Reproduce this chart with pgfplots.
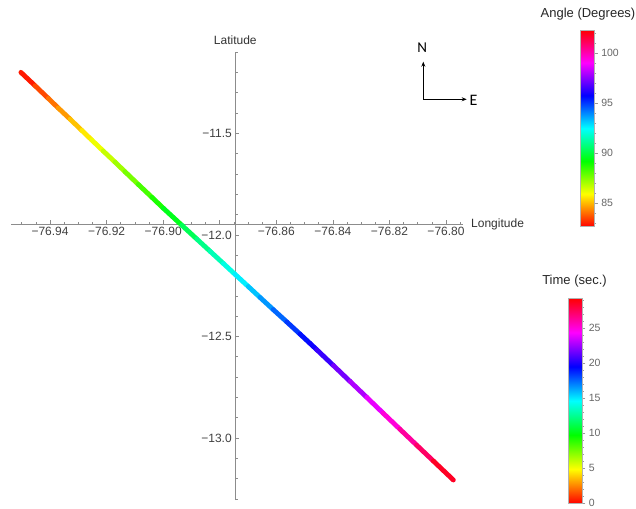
\documentclass[border=0pt]{standalone}
\usepackage{fontspec}
\setmainfont{Liberation Sans}
\newfontfamily\calib{Carlito}
\usepackage{pgfplots}
\usepackage{pgfplotstable}
\pgfplotsset{compat=1.18}
\usetikzlibrary{arrows.meta}
\pgfplotsset{/pgf/number format/assume math mode=true}

\pgfplotsset{colormap={hue}{rgb=(1,0,0) rgb=(1,1,0) rgb=(0,1,0) rgb=(0,1,1) rgb=(0,0,1) rgb=(1,0,1) rgb=(1,0,0)}}

\pgfplotstableread{
lon lat t
-76.9503 -11.1997 0
-76.9453 -11.2655 0.95
-76.9406 -11.3281 1.85
-76.9371 -11.3752 2.53
-76.9329 -11.4302 3.32
-76.9288 -11.4853 4.12
-76.9253 -11.5323 4.79
-76.9212 -11.5869 5.58
-76.9170 -11.6420 6.37
-76.9135 -11.6890 7.05
-76.9088 -11.7516 7.95
-76.9040 -11.8147 8.86
-76.8999 -11.8693 9.65
-76.8934 -11.9526 10.90
-76.8881 -12.0206 11.91
-76.8834 -12.0809 12.81
-76.8787 -12.1411 13.72
-76.8746 -12.1941 14.51
-76.8699 -12.2544 15.41
-76.8658 -12.3074 16.20
-76.8611 -12.3677 17.11
-76.8563 -12.4284 18.02
-76.8516 -12.4887 18.92
-76.8481 -12.5340 19.59
-76.8457 -12.5654 20.05
-76.8398 -12.6434 21.17
-76.8339 -12.7219 22.31
-76.8280 -12.8003 23.44
-76.8222 -12.8782 24.56
-76.8163 -12.9567 25.70
-76.8104 -13.0351 26.83
-76.8045 -13.1131 27.95
-76.7974 -13.2070 29.30
}\track

\begin{document}
\begin{tikzpicture}
\path[use as bounding box] (0pt,0pt) rectangle (636pt,508pt);

% main axis (axes cross at lon -76.8745, lat -11.9466)
\begin{axis}[
  at={(11pt,8pt)}, anchor=south west,
  scale only axis, width=451.7pt, height=448.3pt,
  xmin=-0.0793, xmax=0.0804, ymin=-1.3589, ymax=0.8486,
  axis lines=middle,
  axis line style={-, draw=black!45, line width=0.6pt},
  every inner x axis line/.append style={-},
  every inner y axis line/.append style={-},
  scaled x ticks=false, scaled y ticks=false,
  xtick={-0.0655,-0.0455,-0.0255,-0.0055,0.0145,0.0345,0.0545,0.0745},
  xticklabels={−76.94,−76.92,−76.90,,−76.86,−76.84,−76.82,−76.80},
  minor xtick={-0.0755,-0.0705,-0.0605,-0.0555,-0.0505,-0.0405,-0.0355,-0.0305,-0.0205,-0.0155,-0.0105,-0.0005,0.0045,0.0095,0.0195,0.0245,0.0295,0.0395,0.0445,0.0495,0.0595,0.0645,0.0695,0.0795},
  ytick={0.4466,-0.0534,-0.5534,-1.0534},
  yticklabels={−11.5,−12.0,−12.5,−13.0},
  minor ytick={0.8466,0.7466,0.6466,0.5466,0.3466,0.2466,0.1466,0.0466,-0.1534,-0.2534,-0.3534,-0.4534,-0.6534,-0.7534,-0.8534,-0.9534,-1.1534,-1.2534,-1.3534},
  tick align=inside,
  major tick length=4pt, minor tick length=2.5pt,
  tick style={draw=black!45, line width=0.5pt},
  ticklabel style={font=\fontsize{12}{14}\selectfont, text=black!75},
  xlabel=Longitude, ylabel=Latitude,
  label style={font=\fontsize{12}{14}\selectfont, text=black!80},
  xlabel style={at={(rel axis cs:1,0.6156)}, anchor=west, xshift=5pt},
  ylabel style={at={(rel axis cs:0.4966,1)}, anchor=south, yshift=4pt},
  colormap name=hue, point meta min=0, point meta max=29.3,
  clip=false,
]
\addplot[mesh, point meta=explicit, line width=4.8pt, line cap=round, line join=round]
  table[x expr=\thisrow{lon}+76.8745, y expr=\thisrow{lat}+11.9466, meta=t]{\track};
\end{axis}

% Angle colorbar
\begin{axis}[
  at={(571.7pt,281.3pt)}, anchor=south west,
  scale only axis, width=14pt, height=196.7pt,
  hide axis,
  colormap name=hue,
  point meta min=82.6, point meta max=102.34,
  colorbar,
  colorbar style={
    at={(parent axis.south west)}, anchor=south west,
    scale only axis, width=14pt, height=196.7pt,
    ytick={85,90,95,100},
    minor ytick={83,84,86,87,88,89,91,92,93,94,96,97,98,99,101,102},
    ytick pos=right, yticklabel pos=right,
    tick align=outside,
    major tick length=3.5pt, minor tick length=2pt,
    tick style={draw=black!40, line width=0.4pt},
    axis line style={draw=black!30, line width=0.4pt},
    yticklabel style={font=\fontsize{10.5}{12}\selectfont, text=black!60},
  },
]
\addplot[draw=none] coordinates {(0,0)};
\end{axis}

% Time colorbar
\begin{axis}[
  at={(560pt,4.7pt)}, anchor=south west,
  scale only axis, width=13.3pt, height=205pt,
  hide axis,
  colormap name=hue,
  point meta min=0, point meta max=29.3,
  colorbar,
  colorbar style={
    at={(parent axis.south west)}, anchor=south west,
    scale only axis, width=13.3pt, height=205pt,
    ytick={0,5,10,15,20,25},
    minor ytick={1,2,3,4,6,7,8,9,11,12,13,14,16,17,18,19,21,22,23,24,26,27,28,29},
    ytick pos=right, yticklabel pos=right,
    tick align=outside,
    major tick length=3.5pt, minor tick length=2pt,
    tick style={draw=black!40, line width=0.4pt},
    axis line style={draw=black!30, line width=0.4pt},
    yticklabel style={font=\fontsize{10.5}{12}\selectfont, text=black!60},
  },
]
\addplot[draw=none] coordinates {(0,0)};
\end{axis}

\node[font=\fontsize{13}{15}\selectfont, text=black!85] at (588pt,494pt) {Angle (Degrees)};
\node[font=\fontsize{13}{15}\selectfont, text=black!85] at (574.5pt,227pt) {Time (sec.)};

% compass
\draw[line width=0.9pt, {Stealth[length=5pt,width=4pt]}-{Stealth[length=5pt,width=4pt]}]
  (423.3pt,446.3pt) -- (423.3pt,408.7pt) -- (466.7pt,408.7pt);
\node[font=\calib\fontsize{15}{18}\selectfont] at (422.3pt,460.7pt) {N};
\node[font=\calib\fontsize{16}{19}\selectfont, anchor=west, inner sep=0pt] at (469.5pt,407.5pt) {E};
\end{tikzpicture}
\end{document}
